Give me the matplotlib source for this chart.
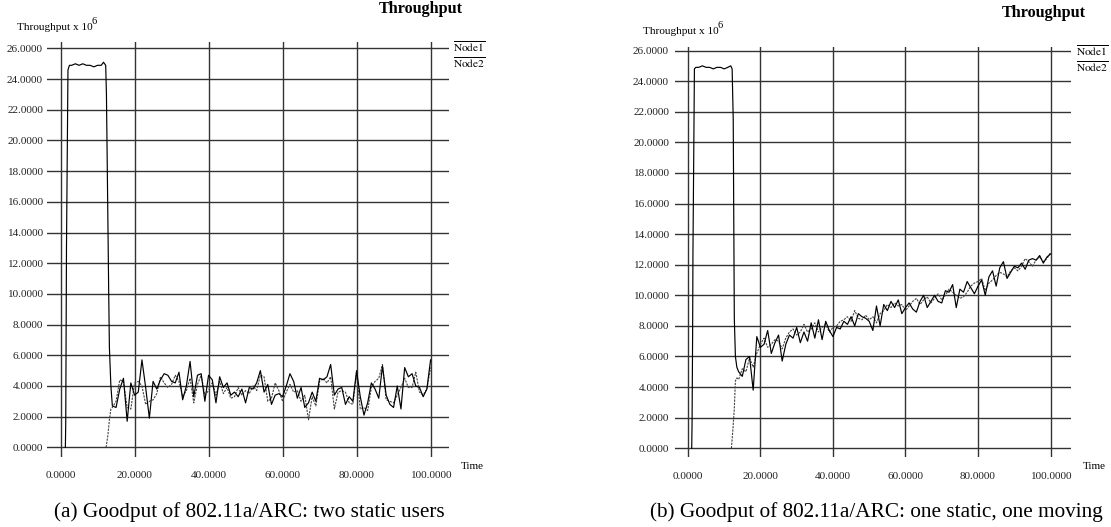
import matplotlib
matplotlib.use("Agg")
import matplotlib.pyplot as plt

plt.rcParams['font.family'] = ['Liberation Serif', 'DejaVu Serif']
plt.rcParams['mathtext.fontset'] = 'stix'

# ---- data ----
# (a) two static users
a_n1_start_t = [1.3, 1.4, 1.5, 1.6, 1.8, 2.0, 2.4, 3, 4, 5, 6, 7, 8, 9, 10, 11, 11.6, 12.2, 12.4, 12.6, 12.8, 13.0, 13.2, 13.6]
a_n1_start_v = [0, 1.6, 7.3, 13.0, 18.8, 24.6, 24.9, 24.9, 25.0, 24.9, 25.0, 24.9, 24.9, 24.8, 24.9, 24.9, 25.1, 24.9, 23.0, 18.8, 14.6, 10.3, 6.5, 4.0]
a_n2_start_t = [12.3, 12.8, 13.2, 13.6]
a_n2_start_v = [0, 0.8, 1.8, 2.5]

steady_t = list(range(14, 101))
a_node1 = [2.7, 2.6, 3.8, 4.5, 1.7, 4.2, 3.4, 3.6, 5.7, 3.9, 1.9, 4.3, 3.8, 4.4, 4.8, 4.7,
           4.3, 4.2, 4.9, 3.1, 4.0, 5.6, 3.3, 4.7, 4.8, 3.0, 4.7, 4.4, 2.9, 4.6, 3.9, 4.2,
           3.4, 3.6, 3.3, 3.8, 2.9, 3.9, 3.8, 4.2, 5.0, 3.6, 4.1, 2.8, 3.4, 3.5, 3.3, 4.0,
           4.8, 4.3, 3.2, 3.9, 2.6, 2.9, 3.6, 3.0, 4.5, 4.4, 4.6, 5.4, 3.4, 3.8, 3.9, 2.8,
           3.3, 3.0, 5.0, 3.3, 2.1, 2.9, 4.2, 3.8, 3.2, 5.3, 3.4, 2.8, 2.6, 4.0, 2.5, 5.2,
           4.6, 4.8, 4.0, 3.9, 3.3, 3.8, 5.7]
a_node2 = [2.6, 3.0, 4.4, 4.3, 2.6, 2.5, 4.2, 4.3, 4.0, 2.8, 3.0, 3.1, 3.5, 4.6, 4.2, 3.9,
           4.1, 4.7, 4.3, 3.3, 3.7, 4.5, 2.9, 4.1, 4.7, 3.4, 3.7, 4.2, 3.4, 4.3, 3.5, 3.9,
           3.2, 3.3, 3.9, 3.4, 3.7, 3.5, 4.0, 3.7, 4.7, 4.6, 3.0, 3.2, 4.2, 3.7, 3.0, 3.6,
           4.1, 3.6, 3.7, 3.0, 3.4, 1.8, 3.3, 2.7, 4.3, 4.5, 4.2, 4.6, 2.5, 3.6, 3.7, 3.6,
           2.9, 2.8, 4.8, 2.5, 2.6, 2.4, 3.9, 4.3, 4.5, 5.4, 3.1, 3.0, 2.9, 3.4, 3.9, 4.5,
           3.9, 3.9, 4.9, 3.6, 3.4, 3.8, 5.2]

# (b) one static, one moving
b_n1_start_t = [1.05, 1.15, 1.3, 1.4, 1.6, 1.8, 2.2, 3, 4, 5, 6, 7, 8, 9, 10, 11, 11.8, 12.2, 12.5, 12.8, 13.1, 13.5]
b_n1_start_v = [0, 1.6, 7.4, 13.0, 18.8, 24.8, 24.9, 24.9, 25.0, 24.9, 24.9, 24.8, 24.9, 24.9, 24.8, 24.9, 25.0, 24.8, 21.5, 8.5, 6.0, 5.3]
b_n2_start_t = [12.0, 12.4, 12.8, 13.1, 13.5]
b_n2_start_v = [0, 1.2, 2.6, 4.4, 4.6]

b_node1 = [5.0, 4.7, 5.8, 6.0, 3.8, 7.3, 6.6, 6.8, 7.7, 6.2, 6.9, 7.4, 5.7, 6.8, 7.4, 7.2,
           7.9, 6.9, 7.6, 7.0, 8.2, 7.2, 8.4, 7.1, 8.3, 7.7, 7.3, 7.9, 7.8, 8.3, 8.1, 8.6,
           8.0, 8.8, 8.6, 8.5, 8.3, 7.7, 9.3, 8.0, 9.4, 9.0, 9.6, 9.2, 9.7, 8.8, 9.2, 9.5,
           9.1, 8.9, 9.6, 10.0, 9.2, 9.6, 10.0, 9.6, 9.5, 10.3, 10.2, 10.7, 9.2, 10.4, 10.2, 10.9,
           10.5, 10.1, 10.6, 11.0, 10.0, 11.2, 11.6, 10.6, 11.8, 12.2, 11.1, 11.5, 11.9, 11.8, 12.1, 11.7,
           12.3, 12.4, 12.3, 12.6, 12.1, 12.5, 12.7]
b_node2 = [4.5, 5.2, 5.0, 5.9, 5.3, 6.2, 6.8, 7.2, 6.6, 6.8, 7.1, 7.0, 6.5, 7.2, 7.6, 7.8,
           7.4, 7.6, 8.1, 7.6, 7.8, 8.2, 7.6, 7.9, 8.1, 7.6, 7.9, 8.0, 8.3, 8.4, 8.6, 8.3,
           9.0, 8.5, 8.4, 8.7, 8.4, 8.6, 8.2, 8.8, 9.0, 9.4, 9.2, 9.5, 9.3, 9.4, 9.0, 9.3,
           9.6, 9.8, 9.4, 9.7, 9.9, 9.5, 9.8, 10.1, 9.7, 10.0, 10.4, 10.2, 10.0, 9.8, 9.9, 10.2,
           10.6, 10.8, 10.9, 11.1, 10.3, 10.8, 11.0, 11.3, 11.5, 11.4, 11.2, 11.6, 11.8, 11.6, 11.9, 12.4,
           12.2, 11.9, 12.3, 12.5, 12.2, 12.4, 12.8]

y_ticks = list(range(0, 27, 2))
x_ticks = [0, 20, 40, 60, 80, 100]
captions = ["(a) Goodput of 802.11a/ARC: two static users",
            "(b) Goodput of 802.11a/ARC: one static, one moving"]

W, H = 1111, 527
fig = plt.figure(figsize=(W / 100, H / 100), dpi=100)


def px_axes(x0, x1, ytop, ybot):
    return fig.add_axes([x0 / W, 1 - ybot / H, (x1 - x0) / W, (ybot - ytop) / H])


def draw_panel(ax, n1_t, n1_v, n2_t, n2_v, xlim, ylim, ypad):
    ax.plot(n2_t, n2_v, color='#444444', lw=0.8, ls=(0, (2, 1)))
    ax.plot(n1_t, n1_v, color='black', lw=0.85)
    ax.set_xlim(*xlim)
    ax.set_ylim(*ylim)
    ax.set_yticks(y_ticks)
    ax.set_yticklabels(['%.4f' % v for v in y_ticks])
    ax.set_xticks(x_ticks)
    ax.set_xticklabels(['%.4f' % v for v in x_ticks])
    ax.grid(True, color='#333333', lw=1.0)
    ax.set_axisbelow(True)
    for s in ax.spines.values():
        s.set_visible(False)
    ax.tick_params(length=0, labelsize=8.1, colors='#222222')
    ax.tick_params(axis='y', pad=ypad)
    ax.tick_params(axis='x', pad=10.5)


ax1 = px_axes(46.5, 448.7, 42.3, 456.7)
draw_panel(ax1, a_n1_start_t + steady_t, a_n1_start_v + a_node1,
           a_n2_start_t + steady_t, a_n2_start_v + a_node2,
           (-3.8, 104.9), (-0.61, 26.4), 2.5)

ax2 = px_axes(675.2, 1070.5, 46.7, 457.0)
draw_panel(ax2, b_n1_start_t + steady_t, b_n1_start_v + b_node1,
           b_n2_start_t + steady_t, b_n2_start_v + b_node2,
           (-3.5, 105.5), (-0.57, 26.25), 4.5)


def ftext(x, y, s, **kw):
    return fig.text(x / W, 1 - y / H, s, **kw)


renderer = fig.canvas.get_renderer()
for (ty, tx, lx, ly, nx, ny, timex) in [
        (9, 421, 17, 27, 453, 47, 461),
        (13, 1044, 643, 31, 1076, 51, 1083)]:
    ftext(tx, ty, 'Throughput', ha='center', va='center', fontsize=11.6, fontweight='bold')
    lab = ftext(lx, ly, 'Throughput x 10', ha='left', va='center', fontsize=8.1)
    bb = lab.get_window_extent(renderer)
    ftext(bb.x1 - 1.5, ly - 5, '6', ha='left', va='center', fontsize=7.5)
    ftext(nx, ny, r'$\overline{\mathrm{Node1}}$', ha='left', va='center', fontsize=8.2)
    ftext(nx, ny + 15.5, r'$\overline{\mathrm{Node2}}$', ha='left', va='center', fontsize=8.2)
    ftext(timex, 466.5, 'Time', ha='left', va='center', fontsize=8)

ftext(249.8, 512, captions[0], ha='center', va='center', fontsize=15.3)
ftext(876, 512, captions[1], ha='center', va='center', fontsize=15.3)

fig.savefig('out.png', dpi=100)
